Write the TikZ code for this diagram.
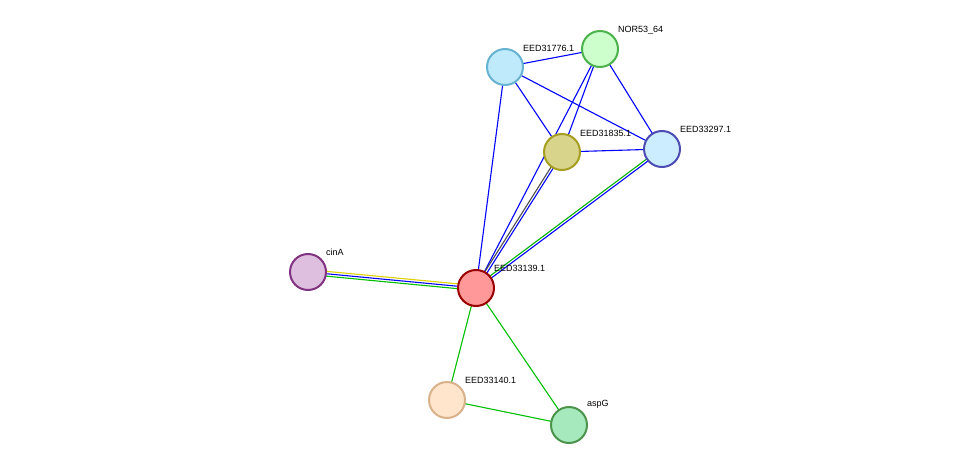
\documentclass[tikz,border=0pt]{standalone}
\usetikzlibrary{calc}
\usepackage{fontspec}
\setmainfont{Liberation Sans}
\begin{document}
\begin{tikzpicture}[x=1pt,y=-1pt,
 prot/.style={circle,minimum size=36pt,inner sep=0pt,line width=2pt},
 lab/.style={font=\fontsize{9}{10}\selectfont,anchor=south west,inner sep=1pt},
 e/.style={line width=1.1pt}]
\useasboundingbox (0,0) rectangle (975,471);
\coordinate (p1) at (505,67); \coordinate (p2) at (600,49);
\coordinate (p3) at (562,152); \coordinate (p4) at (662,149);
\coordinate (p5) at (308,272); \coordinate (p6) at (476,288);
\coordinate (p7) at (447,400); \coordinate (p8) at (569,425);
\newcommand{\pe}[4]{\draw[e,#4] ($(#1)!#3!90:(#2)$) -- ($(#2)!#3!-90:(#1)$);}
\pe{p1}{p2}{0pt}{blue}
\pe{p1}{p3}{0pt}{blue}
\pe{p1}{p4}{0pt}{blue}
\pe{p2}{p3}{0pt}{blue}
\pe{p2}{p4}{0pt}{blue}
\pe{p3}{p4}{0pt}{blue}
\pe{p6}{p1}{0pt}{blue}
\pe{p6}{p2}{0pt}{blue}
\pe{p6}{p3}{-1.2pt}{blue}
\pe{p6}{p3}{1.2pt}{black!70}
\pe{p6}{p4}{-1.2pt}{blue}
\pe{p6}{p4}{1.2pt}{green!70!black}
\pe{p5}{p6}{2.4pt}{yellow!70!olive}
\pe{p5}{p6}{0pt}{blue}
\pe{p5}{p6}{-2.4pt}{green!75!black}
\pe{p6}{p7}{0pt}{green!75!black}
\pe{p6}{p8}{0pt}{green!75!black}
\pe{p7}{p8}{0pt}{green!75!black}
\node[prot,draw=cyan!50!teal!70,fill=cyan!25] (a) at (p1) {};
\node[prot,draw=green!40!gray,fill=green!20] (b) at (p2) {};
\node[prot,draw=olive!80,fill=olive!35!white] (c) at (p3) {};
\node[prot,draw=blue!40!gray,fill=blue!35!cyan!20!white] (d) at (p4) {};
\node[prot,draw=violet!60!gray,fill=violet!25] (f) at (p5) {};
\node[prot,draw=red!60!black,fill=red!40] (g) at (p6) {};
\node[prot,draw=brown!60!white,fill=orange!20] (h) at (p7) {};
\node[prot,draw=green!40!black!70,fill=green!50!teal!35] (i) at (p8) {};
\node[lab] at (522,53) {EED31776.1};
\node[lab] at (617,35) {NOR53\_64};
\node[lab] at (579,138) {EED31835.1};
\node[lab] at (679,134) {EED33297.1};
\node[lab] at (325,257) {cinA};
\node[lab] at (493,273) {EED33139.1};
\node[lab] at (464,385) {EED33140.1};
\node[lab] at (586,410) {aspG};
\end{tikzpicture}
\end{document}
